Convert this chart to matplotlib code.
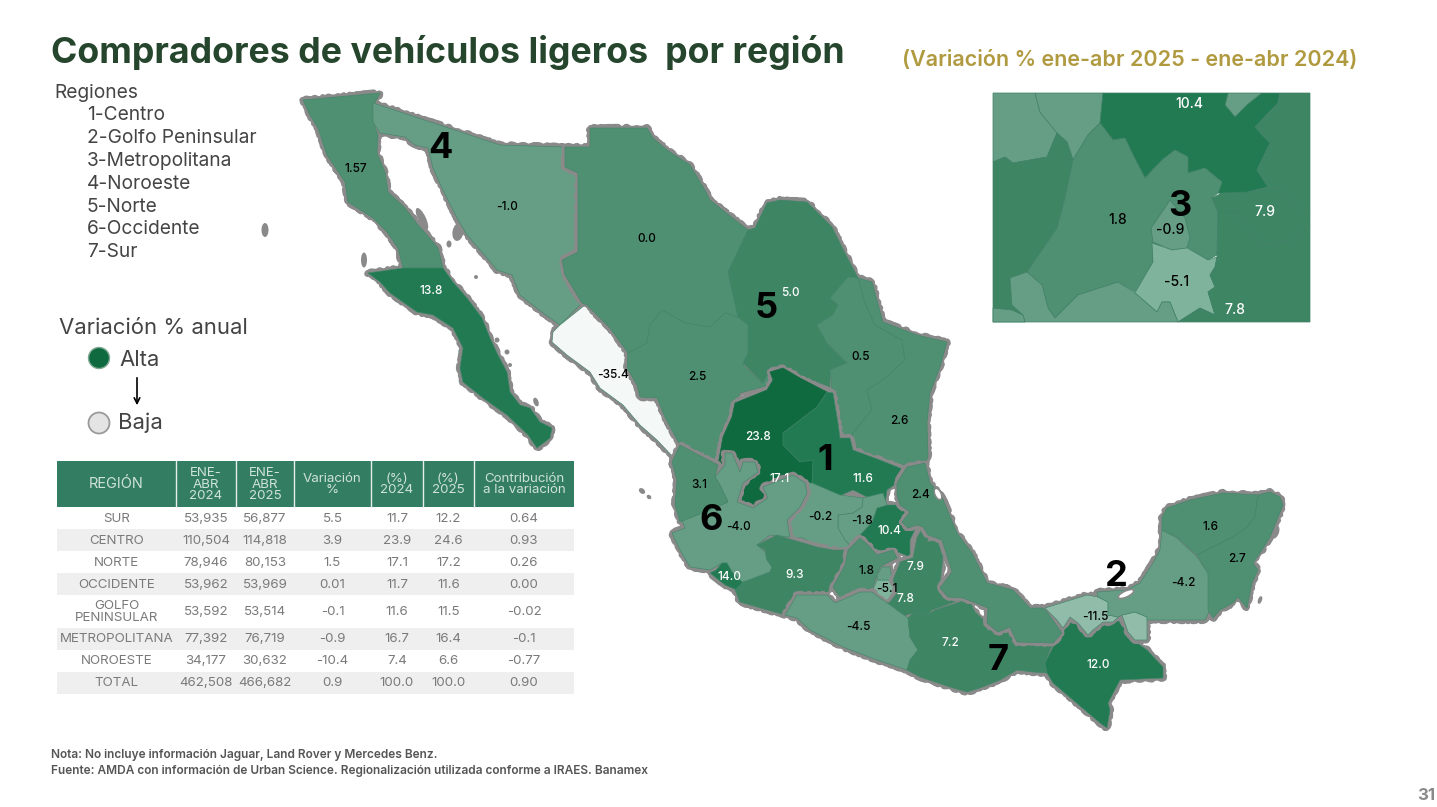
import matplotlib
matplotlib.use('Agg')
import matplotlib.pyplot as plt
from matplotlib.patches import Polygon, Rectangle, Circle, Ellipse

# table data
table_header = ['REGIÓN', 'ENE-\nABR\n2024', 'ENE-\nABR\n2025', 'Variación\n%', '(%)\n2024', '(%)\n2025', 'Contribución\na la variación']
table_regions = ['SUR', 'CENTRO', 'NORTE', 'OCCIDENTE', 'GOLFO\nPENINSULAR', 'METROPOLITANA', 'NOROESTE', 'TOTAL']
sales_2024 = ['53,935', '110,504', '78,946', '53,962', '53,592', '77,392', '34,177', '462,508']
sales_2025 = ['56,877', '114,818', '80,153', '53,969', '53,514', '76,719', '30,632', '466,682']
variation = ['5.5', '3.9', '1.5', '0.01', '-0.1', '-0.9', '-10.4', '0.9']
share_2024 = ['11.7', '23.9', '17.1', '11.7', '11.6', '16.7', '7.4', '100.0']
share_2025 = ['12.2', '24.6', '17.2', '11.6', '11.5', '16.4', '6.6', '100.0']
contribution = ['0.64', '0.93', '0.26', '0.00', '-0.02', '-0.1', '-0.77', '0.90']

region_list = ['1-Centro', '2-Golfo Peninsular', '3-Metropolitana', '4-Noroeste', '5-Norte', '6-Occidente', '7-Sur']

# state values, the map is drawn region by region
noroeste_values = [1.57, 13.8, -1.0, -35.4]
norte_values = [0.0, 2.5, 5.0, 0.5, 2.6]
centro_values = [23.8, 17.1, 11.6, 10.4, -1.8, -0.2]
occidente_values = [-4.0, 3.1, 14.0, 9.3]
metro_values = [1.8, -5.1, -0.9]
sur_values = [7.8, 7.9, -4.5, 7.2, 12.0]
golfo_values = [2.4, -11.5, -11.5, -4.2, 1.6, 2.7]

# outlines
baja_norte = [(303,100),(380,93),(372,108),(375,127),(378,135),(377,153),(385,172),(388,192),(405,208),(418,225),(427,235),(438,248),(443,268),(403,268),(398,248),(387,232),(373,218),(348,202),(345,182),(327,155),(318,128),(310,115)]
baja_sur = [(368,273),(403,268),(443,268),(453,282),(467,298),(482,318),(490,338),(498,355),(507,372),(510,392),(520,405),(530,408),(540,422),(552,428),(550,438),(537,448),(528,435),(507,415),(483,398),(463,382),(460,368),(463,348),(453,328),(433,315),(417,312),(390,293),(380,282)]
sonora = [(373,103),(500,145),(565,147),(565,167),(578,173),(578,252),(562,260),(565,275),(582,303),(560,325),(543,313),(520,295),(512,275),(497,270),(487,258),(467,235),(457,218),(442,188),(433,168),(428,148),(415,145),(405,137),(380,133),(373,122)]
sinaloa = [(585,305),(610,328),(628,353),(627,368),(637,385),(640,397),(657,398),(665,417),(677,443),(676,460),(657,440),(640,425),(623,405),(600,388),(590,372),(567,355),(552,342),(553,332),(560,325)]
chihuahua = [(565,147),(590,147),(590,128),(647,128),(653,138),(667,150),(690,165),(705,190),(710,200),(725,212),(748,230),(728,272),(738,317),(725,313),(710,327),(685,323),(662,310),(650,325),(647,343),(640,352),(628,353),(610,328),(587,305),(582,303),(565,275),(562,260),(578,252),(578,173),(565,167)]
durango = [(628,353),(647,343),(650,325),(662,310),(685,323),(710,327),(725,313),(738,317),(750,325),(748,355),(743,365),(762,383),(768,372),(770,385),(740,393),(730,417),(722,437),(718,465),(695,453),(680,445),(665,417),(657,398),(640,397),(637,385),(627,368)]
coahuila = [(748,230),(755,228),(767,203),(780,200),(807,202),(832,227),(845,253),(858,278),(848,277),(830,298),(838,305),(833,315),(817,325),(827,343),(847,363),(830,370),(830,387),(807,378),(783,368),(768,372),(763,383),(743,363),(748,353),(748,325),(738,317),(728,272)]
nuevo_leon = [(848,277),(858,278),(865,303),(875,325),(902,340),(905,360),(883,380),(867,390),(872,410),(853,433),(853,438),(840,437),(832,390),(830,370),(847,363),(827,343),(817,325),(833,315),(838,305),(830,298)]
tamaulipas = [(858,278),(872,282),(883,322),(917,335),(947,342),(940,367),(930,393),(927,423),(928,457),(925,463),(903,465),(880,460),(860,453),(852,440),(853,433),(872,410),(867,390),(883,380),(905,360),(902,340),(875,325),(865,303)]
zacatecas = [(770,372),(783,368),(800,378),(827,392),(817,407),(783,433),(783,445),(800,462),(813,460),(812,483),(793,475),(773,483),(763,487),(768,498),(753,508),(737,502),(743,483),(758,472),(755,462),(743,462),(740,472),(732,453),(725,453),(725,465),(718,465),(723,437),(732,417),(735,403),(767,390),(773,380)]
aguascalientes = [(783,445),(800,462),(813,460),(812,483),(793,475),(773,483),(763,487),(768,498),(753,508),(737,502),(743,483),(758,472),(770,455)]
slp = [(827,392),(833,393),(838,423),(840,438),(850,438),(853,450),(880,460),(905,470),(897,483),(887,490),(885,505),(880,497),(867,497),(853,490),(837,497),(812,483),(813,460),(800,462),(783,445),(783,433),(817,407)]
hidalgo = [(887,505),(900,505),(910,512),(902,522),(908,528),(917,525),(910,540),(910,557),(893,550),(877,555),(868,543),(860,535),(872,522),(877,508)]
queretaro = [(863,498),(883,493),(887,505),(877,508),(872,522),(860,535),(852,548),(845,540),(838,528),(838,515),(853,513),(862,507)]
guanajuato = [(805,483),(812,483),(840,495),(863,498),(862,507),(853,513),(838,515),(838,528),(845,540),(852,548),(833,550),(817,547),(803,538),(790,537),(787,520),(800,507),(807,493)]
jalisco = [(715,477),(725,465),(725,453),(732,453),(740,472),(743,462),(755,462),(758,472),(743,483),(737,502),(753,508),(768,498),(763,487),(773,483),(793,475),(805,483),(807,493),(800,507),(787,520),(790,537),(770,535),(757,545),(765,552),(767,560),(772,567),(770,572),(750,582),(742,582),(732,572),(727,563),(722,563),(710,570),(690,567),(680,550),(672,533),(685,528),(682,520),(690,518),(728,502),(720,485)]
nayarit = [(672,462),(680,445),(695,453),(718,465),(715,477),(720,485),(728,502),(690,518),(680,522),(675,505),(677,480)]
colima = [(722,563),(727,563),(732,572),(742,582),(743,590),(737,590),(725,585),(710,573),(716,570)]
michoacan = [(757,545),(777,535),(793,540),(817,547),(833,550),(847,550),(843,565),(830,585),(827,595),(797,595),(785,615),(740,602),(735,590),(743,582),(770,572),(772,567),(767,560),(765,550)]
edomex = [(860,538),(868,545),(877,555),(893,550),(897,558),(887,563),(880,567),(877,575),(873,587),(860,592),(842,600),(833,587),(845,565),(848,550)]
morelos = [(877,580),(893,580),(897,593),(890,602),(880,598),(872,592)]
cdmx = [(882,567),(890,567),(892,580),(878,580),(877,575)]
puebla = [(902,562),(913,558),(917,538),(923,527),(930,533),(927,542),(937,540),(943,557),(940,583),(950,598),(960,600),(932,610),(927,615),(913,613),(900,617),(887,603),(890,602),(897,593),(893,580),(900,563)]
tlaxcala = [(900,562),(913,558),(930,570),(920,578),(907,573),(900,570)]
guerrero = [(797,595),(827,595),(835,603),(842,600),(860,592),(872,592),(880,598),(890,605),(908,618),(910,637),(918,650),(910,660),(907,670),(877,660),(843,647),(810,630),(797,618),(785,615)]
oaxaca = [(908,618),(913,613),(927,615),(935,610),(960,602),(968,598),(975,612),(987,623),(987,630),(998,632),(1010,627),(1017,642),(1053,643),(1050,650),(1045,663),(1047,673),(1033,672),(1017,670),(1000,680),(980,688),(967,692),(950,687),(920,677),(907,670),(910,660),(918,650),(910,637)]
chiapas = [(1070,617),(1078,623),(1088,635),(1093,630),(1103,622),(1113,622),(1118,620),(1125,630),(1133,640),(1147,650),(1163,667),(1163,678),(1120,680),(1108,703),(1110,710),(1107,728),(1100,723),(1073,700),(1053,683),(1047,673),(1045,663),(1060,633)]
veracruz = [(907,467),(925,463),(930,483),(942,497),(957,533),(972,553),(987,583),(1013,590),(1030,608),(1043,608),(1047,612),(1062,633),(1053,643),(1017,642),(1010,627),(998,632),(987,623),(988,608),(963,598),(948,597),(940,588),(952,572),(942,540),(928,535),(923,527),(917,525),(908,528),(902,522),(910,512),(900,505),(897,495),(897,483)]
tabasco = [(1045,608),(1087,595),(1098,597),(1108,602),(1108,615),(1118,617),(1113,622),(1103,622),(1093,630),(1088,635),(1078,623),(1070,617),(1063,628),(1057,620)]
tabasco_east = [(1122,615),(1135,612),(1147,617),(1147,640),(1135,640),(1128,632)]
campeche = [(1097,592),(1127,590),(1140,583),(1153,563),(1160,550),(1162,530),(1177,538),(1197,557),(1208,573),(1210,610),(1205,620),(1147,620),(1147,617),(1135,612),(1122,615),(1118,617),(1108,615),(1108,602),(1098,597)]
yucatan = [(1162,530),(1162,517),(1167,508),(1190,500),(1223,493),(1258,495),(1255,517),(1247,527),(1233,537),(1217,545),(1197,555),(1177,537)]
quintana_roo = [(1258,495),(1270,492),(1280,497),(1283,505),(1277,520),(1270,537),(1262,550),(1253,563),(1258,570),(1252,583),(1247,608),(1238,597),(1233,603),(1220,610),(1213,618),(1208,610),(1208,573),(1197,555),(1217,545),(1233,537),(1247,527),(1255,517)]

# inset of the metropolitan area
inset_guanajuato = [(993,93),(1035,93),(1040,112),(1057,133),(1047,157),(1013,163),(1005,157),(993,162)]
inset_queretaro = [(1035,93),(1103,93),(1100,123),(1088,135),(1073,160),(1067,142),(1057,133),(1040,112)]
inset_wedge = [(1228,93),(1262,93),(1247,105),(1235,117),(1225,105)]
inset_hidalgo = [(1103,93),(1228,93),(1225,105),(1235,117),(1247,105),(1262,93),(1280,93),(1278,103),(1255,127),(1270,143),(1257,170),(1268,187),(1248,192),(1232,195),(1218,193),(1222,182),(1205,168),(1188,173),(1188,157),(1175,150),(1162,160),(1145,178),(1133,155),(1125,138),(1113,140),(1100,123)]
inset_veracruz = [(1280,93),(1310,93),(1310,215),(1295,205),(1278,188),(1268,187),(1257,170),(1270,143),(1255,127),(1278,103)]
inset_michoacan = [(993,162),(1005,157),(1013,163),(1047,157),(1057,133),(1067,142),(1073,160),(1065,198),(1057,228),(1027,272),(1010,278),(1012,305),(1023,315),(1025,322),(993,322)]
inset_edomex = [(1100,123),(1113,140),(1125,138),(1133,155),(1145,178),(1162,160),(1175,150),(1188,157),(1188,173),(1205,168),(1222,182),(1218,193),(1212,198),(1218,212),(1217,255),(1208,260),(1188,248),(1153,245),(1153,262),(1135,292),(1118,282),(1078,295),(1055,318),(1048,308),(1042,285),(1027,272),(1057,228),(1065,198),(1073,160),(1088,135)]
inset_cdmx = [(1170,200),(1185,218),(1190,238),(1187,248),(1172,250),(1153,242),(1151,228),(1162,212)]
inset_morelos = [(1152,243),(1172,250),(1187,248),(1208,260),(1217,257),(1215,267),(1210,275),(1215,287),(1208,292),(1215,315),(1200,308),(1178,322),(1170,302),(1162,302),(1157,312),(1135,293),(1153,262)]
inset_puebla = [(1218,212),(1235,212),(1262,245),(1292,240),(1310,225),(1310,322),(1178,322),(1200,308),(1215,315),(1208,292),(1215,287),(1210,275),(1215,267),(1217,257)]
inset_tlaxcala = [(1212,198),(1222,193),(1248,192),(1268,187),(1278,188),(1295,205),(1310,215),(1310,225),(1292,240),(1262,245),(1235,212),(1218,212)]
inset_guerrero = [(1010,278),(1027,272),(1042,285),(1048,308),(1055,318),(1078,295),(1118,282),(1135,293),(1157,312),(1162,302),(1170,302),(1178,322),(1025,322),(1023,315),(1012,305)]
inset_corner = [(993,308),(1012,310),(1023,315),(1025,322),(993,322)]

inset_polys = [inset_guanajuato, inset_queretaro, inset_wedge, inset_hidalgo, inset_veracruz, inset_michoacan, inset_edomex, inset_cdmx, inset_morelos, inset_puebla, inset_tlaxcala, inset_guerrero, inset_corner]
inset_values = [-1.0, -1.0, -1.0, 10.4, 7.8, 7.8, 1.8, -0.9, -5.1, 7.8, 5.0, -1.0, -1.0]

labels_main = ['1.57', '-1.0', '0.0', '13.8', '5.0', '0.5', '2.5', '2.6', '23.8', '17.1', '11.6', '2.4', '3.1', '-4.0', '-0.2', '-1.8', '10.4', '9.3', '14.0', '1.8', '7.9', '-5.1', '7.8', '-4.5', '7.2', '12.0', '-11.5', '-4.2', '1.6', '2.7']
labels_x = [356, 507, 647, 431, 790, 861, 697, 899, 758, 780, 863, 920, 699, 738, 820, 862, 889, 795, 729, 866, 915, 887, 905, 858, 950, 1098, 1095, 1183, 1210, 1237]
labels_y = [168, 206, 239, 291, 293, 357, 377, 420, 437, 478, 478, 494, 484, 527, 517, 520, 531, 574, 576, 570, 566, 589, 599, 626, 642, 665, 616, 583, 526, 558]
labels_inset = ['10.4', '7.9', '1.8', '-0.9', '-5.1', '7.8']
inset_labels_x = [1189, 1265, 1118, 1170, 1177, 1235]
inset_labels_y = [103, 212, 220, 229, 281, 309]
big_numbers = ['1', '2', '3', '4', '5', '6', '7']
big_x = [825, 1116, 1180, 440, 766, 711, 998]
big_y = [459, 575, 205, 147, 307, 518, 658]

FONT = 'Inter'
BORDER = '#8a8a8a'


def shade(v):
	# the map only uses a few green steps
	if v <= -20:
		return '#f4f8f6'
	if v <= -8:
		return '#90bca9'
	if v <= -5:
		return '#80b39c'
	if v < 0:
		return '#659e85'
	if v <= 3.5:
		return '#4f8f72'
	if v <= 9.5:
		return '#3e8564'
	if v <= 15:
		return '#217a52'
	return '#0f6b3f'


def draw_region(polys, values):
	# grey stroke first, fills on top: only the outer border of a region stays visible
	for p in polys:
		stroke = Polygon(p, closed=True, facecolor='none', edgecolor=BORDER, lw=4.6, joinstyle='round', zorder=2)
		stroke.set_sketch_params(scale=1.0, length=9, randomness=16)
		ax.add_patch(stroke)
	for p, v in zip(polys, values):
		c = shade(v)
		edge = c if v > 15 else '#44866a'
		ax.add_patch(Polygon(p, closed=True, facecolor=c, edgecolor=edge, lw=0.45, zorder=2))


fig = plt.figure(figsize=(14.37, 8.07), dpi=100)
ax = fig.add_axes([0, 0, 1, 1])
ax.set_xlim(0, 1437)
ax.set_ylim(807, 0)
ax.axis('off')

# small islands
for x, y, w, h, a in [(265, 230, 7, 14, 0), (364, 260, 6, 15, 0), (422, 219, 8, 24, -25), (449, 244, 5, 7, 0), (642, 491, 7, 5, 40), (649, 497, 5, 4, 40), (497, 340, 5, 5, 0), (507, 352, 5, 5, 0), (510, 365, 4, 4, 0), (536, 402, 5, 9, -20), (1275, 532, 8, 14, 20), (1260, 600, 4, 8, 20), (476, 277, 4, 4, 0), (458, 232, 11, 18, 10)]:
	ax.add_patch(Ellipse((x, y), w, h, angle=a, facecolor='#8a8a8a', edgecolor='none', zorder=1))

draw_region([baja_norte, baja_sur, sonora, sinaloa], noroeste_values)
draw_region([chihuahua, durango, coahuila, nuevo_leon, tamaulipas], norte_values)
draw_region([zacatecas, aguascalientes, slp, hidalgo, queretaro, guanajuato], centro_values)
draw_region([jalisco, nayarit, colima, michoacan], occidente_values)
draw_region([edomex, morelos, cdmx], metro_values)
draw_region([puebla, tlaxcala, guerrero, oaxaca, chiapas], sur_values)
draw_region([veracruz, tabasco, tabasco_east, campeche, yucatan, quintana_roo], golfo_values)

# coastal lagoons
ax.add_patch(Ellipse((1126, 594), 17, 6, angle=-25, facecolor='white', edgecolor=BORDER, lw=1.2, zorder=3))
ax.add_patch(Ellipse((938, 494), 6, 12, angle=-25, facecolor='white', edgecolor=BORDER, lw=1, zorder=3))

# inset
for p, v in zip(inset_polys, inset_values):
	ax.add_patch(Polygon(p, closed=True, facecolor=shade(v), edgecolor='#3f8066', lw=0.5, zorder=3))

# value labels
for t, x, y in zip(labels_main, labels_x, labels_y):
	col = 'white' if float(t) >= 5 else 'black'
	ax.text(x, y + 0.5, t, color=col, fontsize=8.5, family=FONT, weight='medium', ha='center', va='center', zorder=5)
for t, x, y in zip(labels_inset, inset_labels_x, inset_labels_y):
	col = 'white' if float(t) >= 5 else 'black'
	ax.text(x, y + 0.5, t, color=col, fontsize=10, family=FONT, weight='medium', ha='center', va='center', zorder=5)
# this one is cut off by the neighbouring state in the original
t = ax.text(613, 374.5, '-35.4', color='black', fontsize=8.5, family=FONT, weight='medium', ha='center', va='center', zorder=5)
t.set_clip_path(Rectangle((590, 360), 38, 30, transform=ax.transData))
for t, x, y in zip(big_numbers, big_x, big_y):
	ax.text(x, y + 2, t, color='black', fontsize=26, family=FONT, weight='bold', ha='center', va='center', zorder=6)

# titles
ax.text(51, 53, 'Compradores de vehículos ligeros  por región', color='#25452d', fontsize=25.7, family=FONT, weight='bold', ha='left', va='center')
ax.text(902, 60, '(Variación % ene-abr 2025 - ene-abr 2024)', color='#b09a40', fontsize=15.5, family=FONT, weight='semibold', ha='left', va='center')

# region list
ax.text(54, 92.5, 'Regiones', color='#444444', fontsize=13.8, family=FONT, ha='left', va='center')
for i, r in enumerate(region_list):
	ax.text(87, 115.5 + i * 22.8, r, color='#444444', fontsize=13.8, family=FONT, ha='left', va='center')

# colour legend
ax.text(59, 328.5, 'Variación % anual', color='#444444', fontsize=15.9, family=FONT, ha='left', va='center')
ax.add_patch(Circle((99, 358), 10.5, facecolor='#0f6b3f', edgecolor='#7fa893', lw=1))
ax.text(119, 359.5, 'Alta', color='#444444', fontsize=15.9, family=FONT, ha='left', va='center')
ax.annotate('', xy=(137, 408), xytext=(137, 375), arrowprops=dict(arrowstyle='->', color='black', lw=1.2))
ax.add_patch(Circle((99, 423), 10.5, facecolor='#e4e4e4', edgecolor='#9a9a9a', lw=1.3))
ax.text(118, 422.5, 'Baja', color='#444444', fontsize=15.9, family=FONT, ha='left', va='center')

# table
col_edges = [57, 176, 236, 294, 371, 423, 474, 574]
row_edges = [508, 529, 551, 573, 595, 628, 650, 672, 694]
columns = [table_regions, sales_2024, sales_2025, variation, share_2024, share_2025, contribution]

ax.add_patch(Rectangle((57, 461), 517, 46, facecolor='#337d63', edgecolor='none'))
for i in range(7):
	cx = (col_edges[i] + col_edges[i + 1]) / 2
	if i > 0:
		ax.plot([col_edges[i], col_edges[i]], [461, 507], color='#e6efeb', lw=1)
	size = 10.5 if i == 0 else 9.6
	ax.text(cx, 484.5, table_header[i], color='#cfe2d9', fontsize=size, family=FONT, ha='center', va='center', linespacing=0.95)

for r in range(len(table_regions)):
	if r % 2 == 1:
		ax.add_patch(Rectangle((57, row_edges[r]), 517, row_edges[r + 1] - row_edges[r], facecolor='#efefef', edgecolor='none'))
	cy = (row_edges[r] + row_edges[r + 1]) / 2 + 0.5
	for i, col in enumerate(columns):
		cx = (col_edges[i] + col_edges[i + 1]) / 2
		ax.text(cx, cy, col[r], color='#7a7a7a', fontsize=9.6, family=FONT, ha='center', va='center', linespacing=0.95)

# notes
ax.text(51, 755, 'Nota: No incluye información Jaguar, Land Rover y Mercedes Benz.', color='#555555', fontsize=8.55, family=FONT, weight='semibold', ha='left', va='center')
ax.text(51, 771, 'Fuente: AMDA con información de Urban Science. Regionalización utilizada conforme a IRAES. Banamex', color='#555555', fontsize=8.55, family=FONT, weight='semibold', ha='left', va='center')
ax.text(1426, 795, '31', color='#8a8a8a', fontsize=12, family=FONT, weight='bold', ha='center', va='center')

fig.savefig('out.png', dpi=100)
